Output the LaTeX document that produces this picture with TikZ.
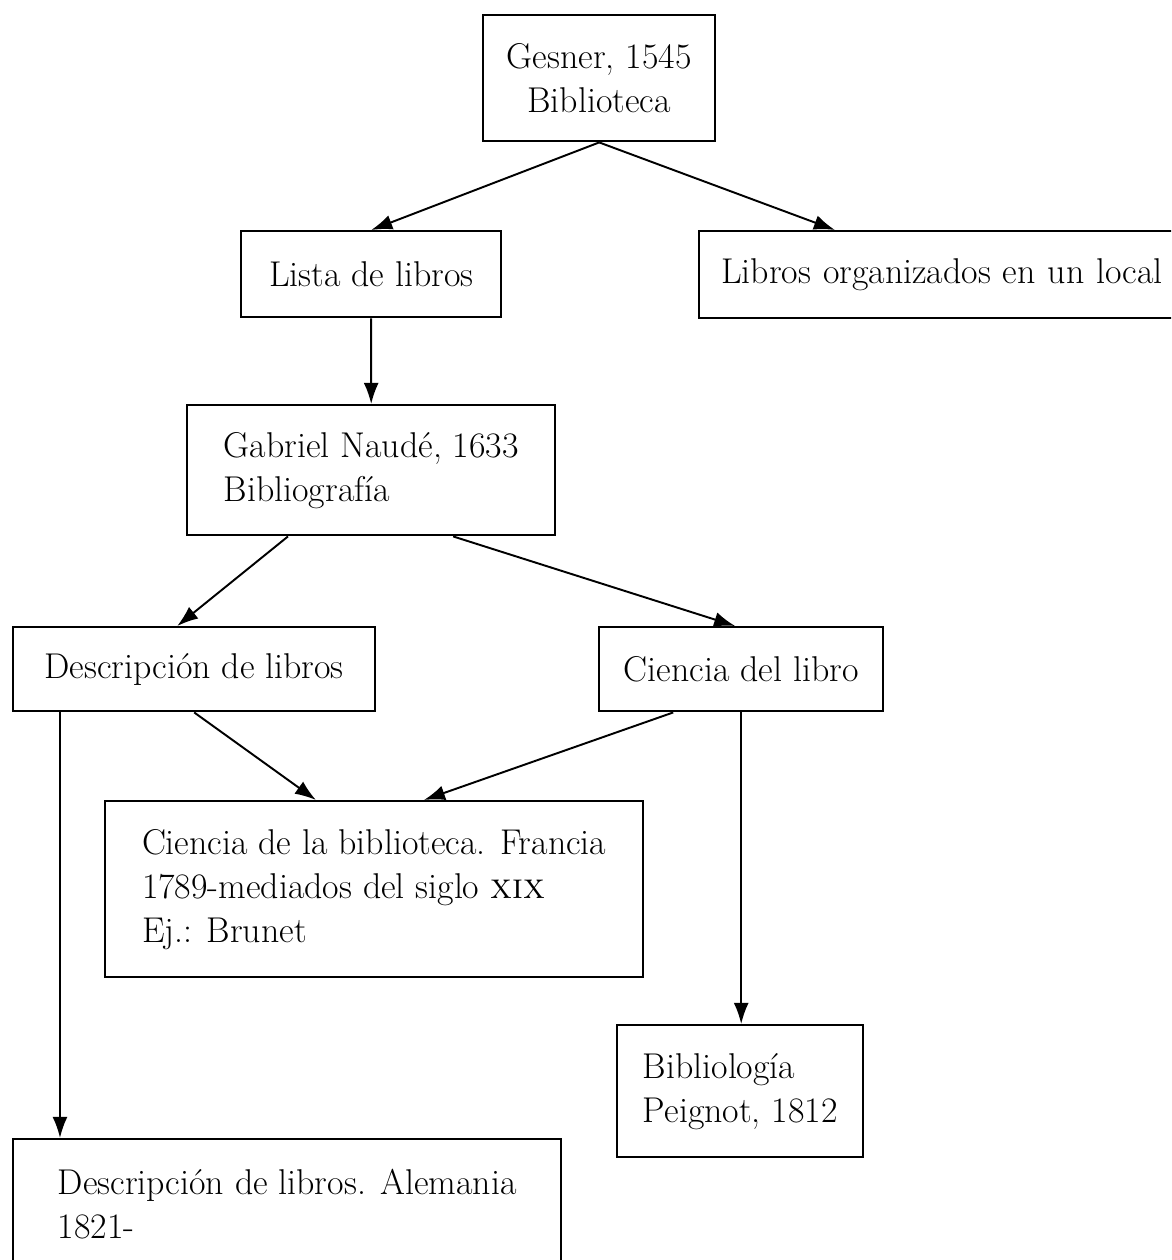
\documentclass[tikz,border=0pt]{standalone}
\usetikzlibrary{arrows.meta}

\begin{document}
\begin{tikzpicture}[x=0.02cm, y=-0.02cm,
    box/.style = {draw, line width=1.4pt, anchor=north west, align=left, inner sep=0pt,
                  font=\fontsize{20.4}{25}\selectfont},
    link/.style = {line width=1.1pt, -{Latex[length=12pt, width=8.5pt]}}]
    \useasboundingbox (0,0) rectangle (1171,1260);
    \clip (0,0) rectangle (1171,1260);

    \node[box, minimum width=4.64cm, minimum height=2.52cm, align=center] (gesner) at (482,14) {Gesner, 1545\\Biblioteca};
    \node[box, minimum width=5.2cm, minimum height=1.72cm] (lista) at (240,230) {Lista de libros};
    \node[box, minimum height=1.74cm, inner xsep=0.44cm, text width=9.4cm] (local) at (698,230) {Libros organizados en un local};
    \node[box, minimum width=7.36cm, minimum height=2.6cm] (naude) at (186,404) {Gabriel Naudé, 1633\\Bibliografía};
    \node[box, minimum width=7.24cm, minimum height=1.68cm] (desc) at (12,626) {Descripción de libros};
    \node[box, minimum width=5.68cm, minimum height=1.68cm] (cdl) at (598,626) {Ciencia del libro};
    \node[box, minimum width=10.76cm, minimum height=3.52cm] (cbib) at (104,800) {Ciencia de la biblioteca. Francia\\1789-mediados del siglo \textsc{xix}\\Ej.: Brunet};
    \node[box, minimum width=4.92cm, minimum height=2.64cm] (biblio) at (616,1024) {Bibliología\\Peignot, 1812};
    \node[box, minimum width=10.96cm, minimum height=2.6cm] (alem) at (12,1138) {Descripción de libros. Alemania\\1821-};

    \draw[link] (gesner.south) -- (lista.north);
    \draw[link] (gesner.south) -- ([xshift=2.74cm]local.north west);
    \draw[link] (lista.south) -- (naude.north);
    \draw[link] ([xshift=2.04cm]naude.south west) -- ([xshift=-0.34cm]desc.north);
    \draw[link] ([xshift=1.64cm]naude.south) -- ([xshift=-0.12cm]cdl.north);
    \draw[link] (desc.south) -- ([xshift=4.24cm]cbib.north west);
    \draw[link] ([xshift=-1.36cm]cdl.south) -- ([xshift=6.4cm]cbib.north west);
    \draw[link] (cdl.south) -- (cdl.south |- biblio.north);
    \draw[link] ([xshift=0.96cm]desc.south west) -- ([xshift=0.96cm]alem.north west);
\end{tikzpicture}
\end{document}
